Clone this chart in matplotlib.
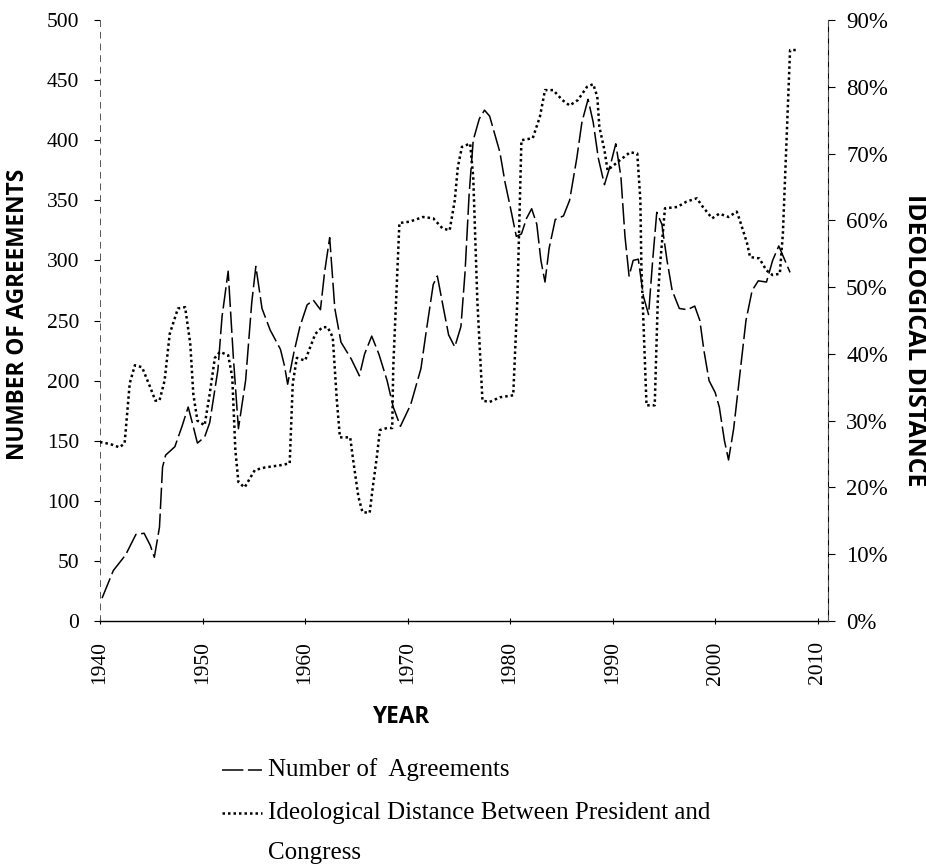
import matplotlib
matplotlib.use("Agg")
import matplotlib.pyplot as plt
from matplotlib.lines import Line2D

# ---- data ----
agree_years = [1940.2, 1941.3, 1942.5, 1943.5, 1944.3, 1944.9, 1945.3, 1945.8, 1946.1, 1946.4,
               1947.3, 1948.0, 1948.6, 1949.0, 1949.5, 1950.2, 1950.7, 1951.5, 1951.9, 1952.5,
               1953.0, 1953.5, 1954.2, 1954.8, 1955.2, 1955.8, 1956.6, 1957.6, 1958.0, 1958.3,
               1958.9, 1959.5, 1960.2, 1960.8, 1961.5, 1961.9, 1962.4, 1962.9, 1963.5, 1964.5,
               1965.3, 1965.8, 1966.5, 1967.2, 1968.0, 1968.6, 1969.3, 1970.3, 1971.3, 1971.8,
               1972.5, 1972.9, 1973.5, 1974.0, 1974.6, 1975.2, 1975.6, 1976.0, 1976.4, 1977.0,
               1977.5, 1978.0, 1978.5, 1979.0, 1979.5, 1980.0, 1980.6, 1981.1, 1981.6, 1982.1,
               1982.6, 1983.0, 1983.4, 1983.8, 1984.4, 1985.2, 1985.8, 1986.5, 1987.0, 1987.6,
               1988.1, 1988.6, 1989.2, 1989.8, 1990.3, 1990.8, 1991.2, 1991.6, 1992.0, 1992.5,
               1993.0, 1993.5, 1993.9, 1994.3, 1994.8, 1995.3, 1995.8, 1996.5, 1997.3, 1998.0,
               1998.5, 1998.9, 1999.4, 2000.0, 2000.4, 2000.9, 2001.3, 2001.8, 2002.4, 2003.0,
               2003.6, 2004.2, 2005.0, 2005.6, 2006.2, 2006.8, 2007.3]
agree_counts = [19, 42, 55, 72, 73, 63, 53, 78, 128, 138,
                145, 162, 178, 165, 148, 153, 165, 209, 253, 291,
                220, 160, 200, 265, 295, 260, 242, 226, 212, 197,
                223, 245, 263, 267, 259, 290, 319, 260, 232, 218,
                204, 222, 237, 222, 200, 178, 162, 180, 210, 240,
                280, 287, 260, 238, 228, 245, 290, 355, 400, 418,
                425, 420, 405, 390, 365, 345, 320, 322, 335, 343,
                330, 300, 282, 310, 334, 337, 350, 385, 415, 434,
                415, 385, 363, 380, 397, 370, 320, 287, 300, 301,
                270, 255, 300, 340, 330, 300, 275, 260, 259, 262,
                250, 225, 200, 190, 178, 150, 134, 160, 205, 250,
                275, 283, 282, 300, 312, 300, 290]

dist_years = [1940.0, 1941.0, 1941.9, 1942.4, 1942.9, 1943.4, 1944.1, 1944.9, 1945.4, 1945.8,
              1946.3, 1946.8, 1947.6, 1948.3, 1948.8, 1949.1, 1949.5, 1950.2, 1950.7, 1951.2,
              1951.7, 1952.5, 1952.9, 1953.2, 1953.5, 1954.1, 1955.1, 1956.1, 1957.5, 1958.5,
              1958.8, 1959.2, 1960.0, 1961.0, 1961.7, 1962.2, 1962.7, 1963.1, 1963.4, 1964.4,
              1964.7, 1965.2, 1965.6, 1966.3, 1966.6, 1967.0, 1967.3, 1968.0, 1968.5, 1968.6,
              1969.2, 1970.2, 1971.5, 1972.5, 1973.4, 1974.1, 1974.6, 1974.9, 1975.3, 1976.1,
              1976.4, 1976.8, 1977.3, 1978.0, 1979.0, 1980.3, 1980.7, 1981.1, 1982.2, 1982.9,
              1983.4, 1984.2, 1985.1, 1985.8, 1986.6, 1987.5, 1988.1, 1988.5, 1988.7, 1989.2,
              1989.5, 1990.7, 1991.7, 1992.4, 1992.7, 1992.8, 1993.3, 1994.1, 1994.4, 1994.6,
              1995.1, 1996.3, 1997.2, 1998.2, 1998.8, 1999.7, 2000.4, 2001.3, 2002.1, 2002.4,
              2003.1, 2003.4, 2004.3, 2005.0, 2005.6, 2006.3, 2006.6, 2007.3, 2008.0]
dist_pct = [26.8, 26.5, 26.0, 26.6, 35.6, 38.3, 38.0, 35.0, 33.0, 33.0,
            36.0, 43.0, 46.8, 47.0, 41.6, 34.0, 30.0, 29.3, 34.0, 39.4,
            40.3, 39.8, 36.5, 25.6, 20.8, 20.0, 22.6, 23.0, 23.3, 23.6,
            35.6, 39.4, 39.0, 43.0, 44.0, 44.0, 42.5, 33.0, 27.5, 27.5,
            24.0, 18.6, 16.3, 16.2, 20.0, 24.6, 28.6, 28.9, 28.9, 38.0,
            59.6, 59.8, 60.5, 60.3, 58.8, 58.5, 63.0, 68.0, 71.0, 71.5,
            66.5, 48.0, 33.0, 32.8, 33.5, 33.8, 48.0, 72.0, 72.3, 75.5,
            79.5, 79.5, 78.0, 77.2, 78.0, 80.0, 80.4, 78.5, 74.0, 70.5,
            67.5, 69.0, 70.2, 70.0, 63.0, 53.0, 32.3, 32.3, 48.0, 53.0,
            61.8, 62.0, 62.8, 63.3, 62.0, 60.3, 61.0, 60.5, 61.3, 60.0,
            56.6, 54.5, 54.3, 52.5, 51.8, 52.0, 58.0, 85.5, 85.5]

left_ticks = [0, 50, 100, 150, 200, 250, 300, 350, 400, 450, 500]
right_ticks = [0, 10, 20, 30, 40, 50, 60, 70, 80, 90]
x_ticks = [1940, 1950, 1960, 1970, 1980, 1990, 2000, 2010]

SERIF = ["Liberation Serif", "DejaVu Serif"]
SANS_B = ["Open Sans", "DejaVu Sans"]

fig = plt.figure(figsize=(9.26, 8.66), dpi=100)
ax = fig.add_axes([100/926, 1-621/866, 728/926, 601/866])
ax2 = ax.twinx()

agree_style = dict(color="black", lw=1.1, linestyle=(0, (14, 3)))
dist_style = dict(color="black", lw=1.8, linestyle=(0, (1, 1.2)))

ax.plot(agree_years, agree_counts, **agree_style)
ax2.plot(dist_years, dist_pct, **dist_style)

ax.set_xlim(1940, 2011)
ax.set_ylim(0, 500)
ax2.set_ylim(0, 90)

ax.set_xticks(x_ticks)
ax.set_xticklabels([str(t) for t in x_ticks], rotation=90, fontsize=15.5, family=SERIF)
ax.set_yticks(left_ticks)
ax.set_yticklabels([str(t) for t in left_ticks], fontsize=15.5, family=SERIF)
ax2.set_yticks(right_ticks)
ax2.set_yticklabels([f"{t}%" for t in right_ticks], fontsize=16.5, family=SERIF)

for a in (ax, ax2):
    a.spines["top"].set_visible(False)
ax.spines["left"].set_linestyle((0, (6, 6)))
ax.spines["left"].set_linewidth(0.7)
ax.spines["left"].set_color("#555555")
ax2.spines["right"].set_linestyle((0, (6, 6)))
ax2.spines["right"].set_linewidth(0.7)
ax2.spines["right"].set_color("#555555")
ax2.spines["left"].set_visible(False)
ax2.spines["bottom"].set_visible(False)
ax.spines["bottom"].set_linewidth(1.0)

ax.tick_params(axis="y", length=4, width=0.8, pad=11)
ax.tick_params(axis="x", length=5, width=0.8, pad=12, direction="inout")
ax2.tick_params(axis="y", length=5, width=0.8, pad=8)

ax.set_xlabel("YEAR", fontsize=16.3, fontweight="bold", family=SANS_B)
ax.xaxis.set_label_coords((402-100)/728, -(717-621)/601)
ax.xaxis.label.set_va("center")
ax.set_ylabel("NUMBER OF AGREEMENTS", fontsize=16.3, fontweight="bold", family=SANS_B)
ax.yaxis.set_label_coords(-(100-18)/728, (621-314)/601)
ax.yaxis.label.set_va("center")
ax2.set_ylabel("IDEOLOGICAL DISTANCE", fontsize=17.8, fontweight="bold", family=SANS_B,
               rotation=-90)
ax2.yaxis.set_label_coords((915-100)/728, (621-340)/601)
ax2.yaxis.label.set_va("center")

# legend, drawn below the chart
fig.add_artist(Line2D([222/926, 262/926], [1-770/866, 1-770/866], transform=fig.transFigure,
                      **agree_style))
fig.add_artist(Line2D([222/926, 262/926], [1-813/866, 1-813/866], transform=fig.transFigure,
                      **dist_style))
fig.text(268/926, 1-776/866, "Number of  Agreements", fontsize=18, family=SERIF, va="baseline")
fig.text(268/926, 1-819/866, "Ideological Distance Between President and", fontsize=18,
         family=SERIF, va="baseline")
fig.text(268/926, 1-859/866, "Congress", fontsize=18, family=SERIF, va="baseline")

fig.savefig("out.png", dpi=100)
